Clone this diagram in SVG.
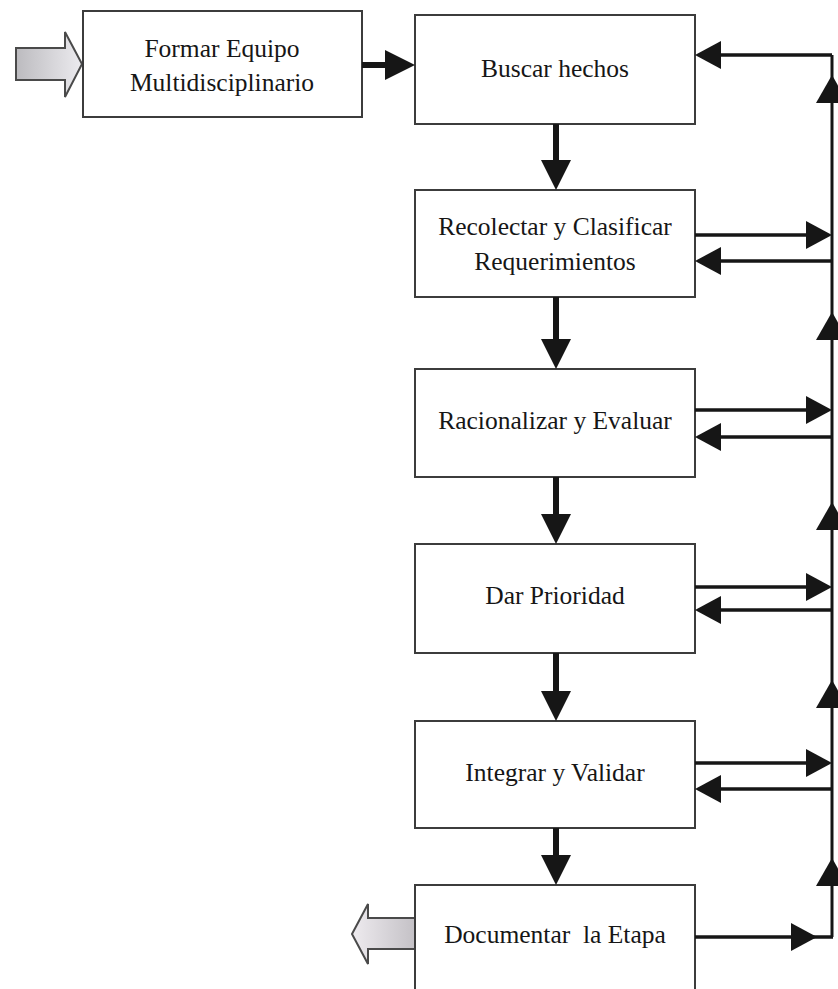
<svg xmlns="http://www.w3.org/2000/svg" width="838" height="989" viewBox="0 0 838 989">
  <style>
    .box { fill: #ffffff; stroke: #3c3c3c; stroke-width: 2; }
    .lbl { font-family: "Liberation Serif", "Times New Roman", serif; font-size: 25.5px; fill: #161616; text-anchor: middle; }
    .flow { stroke: #161616; stroke-width: 6; fill: none; }
    .link { stroke: #161616; stroke-width: 3.5; fill: none; }
    .rail { stroke: #161616; stroke-width: 3; fill: none; }
    .block { stroke: #4a4a4a; stroke-width: 2; stroke-linejoin: miter; }
  </style>
  <defs>
    <marker id="bigHead" markerUnits="userSpaceOnUse" viewBox="0 0 30 30" markerWidth="30" markerHeight="30" refX="0" refY="15" orient="auto">
      <path d="M0,0 L30,15 L0,30 z" fill="#161616"/>
    </marker>
    <marker id="head" markerUnits="userSpaceOnUse" viewBox="0 0 26 28" markerWidth="26" markerHeight="28" refX="0" refY="14" orient="auto">
      <path d="M0,0 L26,14 L0,28 z" fill="#161616"/>
    </marker>
    <path id="upHead" d="M-16,28 L0,0 L16,28 z" fill="#161616"/>
    <linearGradient id="fadeRight" x1="0" y1="0" x2="1" y2="0">
      <stop offset="0" stop-color="#bcbbbf"/>
      <stop offset="1" stop-color="#ecebef"/>
    </linearGradient>
    <linearGradient id="fadeLeft" x1="1" y1="0" x2="0" y2="0">
      <stop offset="0" stop-color="#c4c1c6"/>
      <stop offset="1" stop-color="#eeebef"/>
    </linearGradient>
  </defs>

  <!-- entry and exit block arrows -->
  <g id="entrada">
    <polygon class="block" fill="url(#fadeRight)" points="16,48 65,48 65,32 82,64 65,97 65,80 16,80"/>
  </g>
  <g id="salida">
    <polygon class="block" fill="url(#fadeLeft)" points="415,918 368,918 368,904 352,934 368,964 368,949 415,949"/>
  </g>

  <!-- process steps -->
  <g id="formar-equipo">
    <rect class="box" x="83" y="11" width="279" height="106"/>
    <text class="lbl" x="222" y="57">Formar Equipo</text>
    <text class="lbl" x="222" y="91">Multidisciplinario</text>
  </g>
  <g id="buscar-hechos">
    <rect class="box" x="415" y="15" width="280" height="109"/>
    <text class="lbl" x="555" y="77">Buscar hechos</text>
  </g>
  <g id="recolectar">
    <rect class="box" x="415" y="190" width="280" height="107"/>
    <text class="lbl" x="555" y="235">Recolectar y Clasificar</text>
    <text class="lbl" x="555" y="270">Requerimientos</text>
  </g>
  <g id="racionalizar">
    <rect class="box" x="415" y="369" width="280" height="108"/>
    <text class="lbl" x="555" y="429">Racionalizar y Evaluar</text>
  </g>
  <g id="dar-prioridad">
    <rect class="box" x="415" y="544" width="280" height="109"/>
    <text class="lbl" x="555" y="604">Dar Prioridad</text>
  </g>
  <g id="integrar">
    <rect class="box" x="415" y="721" width="280" height="107"/>
    <text class="lbl" x="555" y="781">Integrar y Validar</text>
  </g>
  <g id="documentar">
    <rect class="box" x="415" y="885" width="280" height="110"/>
    <text class="lbl" x="555" y="943" xml:space="preserve">Documentar  la Etapa</text>
  </g>

  <!-- connectors -->
  <g id="connectors">
    <!-- main flow -->
    <path class="flow" d="M362,65 H385" marker-end="url(#bigHead)"/>
    <path class="flow" d="M556,124 V160" marker-end="url(#bigHead)"/>
    <path class="flow" d="M556,297 V339" marker-end="url(#bigHead)"/>
    <path class="flow" d="M556,477 V514" marker-end="url(#bigHead)"/>
    <path class="flow" d="M556,653 V691" marker-end="url(#bigHead)"/>
    <path class="flow" d="M556,828 V855" marker-end="url(#bigHead)"/>

    <!-- feedback rail -->
    <path class="rail" d="M832,937 V55"/>
    <path class="link" d="M832,55 H721" marker-end="url(#head)"/>
    <path class="link" d="M791,937 H833"/>
    <path class="link" d="M695,937 H791" marker-end="url(#head)"/>

    <path class="link" d="M695,235 H806" marker-end="url(#head)"/>
    <path class="link" d="M832,261 H721" marker-end="url(#head)"/>
    <path class="link" d="M695,410 H806" marker-end="url(#head)"/>
    <path class="link" d="M832,437 H721" marker-end="url(#head)"/>
    <path class="link" d="M695,587 H806" marker-end="url(#head)"/>
    <path class="link" d="M832,610 H721" marker-end="url(#head)"/>
    <path class="link" d="M695,763 H806" marker-end="url(#head)"/>
    <path class="link" d="M832,789 H721" marker-end="url(#head)"/>

    <use href="#upHead" x="832" y="75"/>
    <use href="#upHead" x="832" y="312"/>
    <use href="#upHead" x="832" y="502"/>
    <use href="#upHead" x="832" y="680"/>
    <use href="#upHead" x="832" y="858"/>
  </g>
</svg>
